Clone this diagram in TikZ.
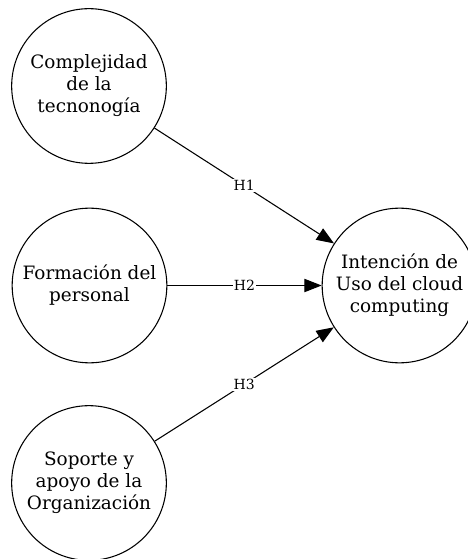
\documentclass[tikz,border=0pt]{standalone}
\usepackage{fontspec}
\setmainfont{DejaVu Serif}
\usetikzlibrary{arrows.meta}

\tikzset{
    construct/.style={circle, draw, thick, minimum size=116pt, inner sep=0pt, align=center,
        font=\fontsize{13.8}{16.5}\selectfont},
    hyp/.style={fill=white, inner sep=1pt, font=\fontsize{10.5}{12}\selectfont},
    path/.style={thick, -{Triangle[length=13pt,width=10pt]}}
}

\begin{document}
\begin{tikzpicture}[x=0.75pt, y=-0.75pt]
            \useasboundingbox (0, 0) rectangle (467, 559);

            \node[construct] (C) at (89, 86) {Complejidad\\de la\\tecnonogía};
            \node[construct] (F) at (89.5, 285.5) {Formación del\\personal};
            \node[construct] (S) at (89, 483) {Soporte y\\apoyo de la\\Organización};
            \node[construct] (I) at (399.5, 285.5) {Intención de\\Uso del cloud\\computing};

            \draw[path] (C) -- node[hyp] {H1} (I);
            \draw[path] (F) -- node[hyp] {H2} (I);
            \draw[path] (S) -- node[hyp] {H3} (I);
        \end{tikzpicture}
\end{document}
